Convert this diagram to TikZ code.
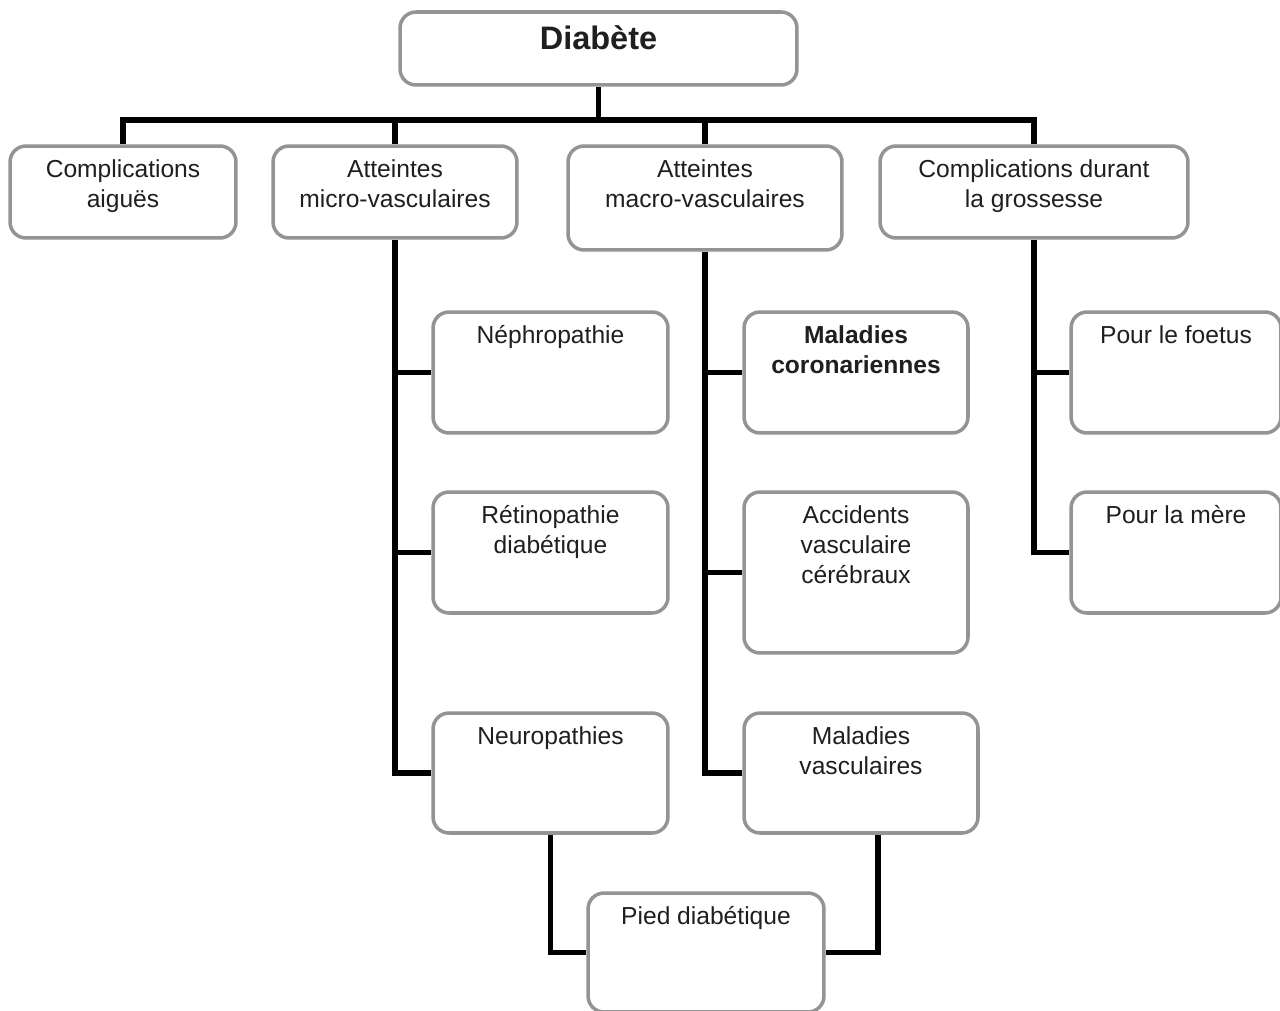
\documentclass[tikz,border=0pt]{standalone}
\usepackage{fontspec}
\setmainfont{Liberation Sans}
\usepackage{tikz}
\usetikzlibrary{shapes}

\newcommand{\boxtxt}[3]{\parbox[c][\dimexpr #2-12pt\relax][t]{#1}{\centering\strut #3}}

\begin{document}
\begin{tikzpicture}[x=0.02cm, y=-0.02cm,
        box/.style={draw=black!42, line width=2pt, rounded corners=0.32cm, fill=white,
            inner xsep=0pt, inner ysep=6pt, text=black!88, font=\fontsize{14}{17}\selectfont},
        link/.style={draw=black, line width=3.4pt}]
        \useasboundingbox (0, 0) rectangle (1280, 1010);

        \node[box, font=\fontsize{18.5}{22}\selectfont\bfseries] (diab) at (598.5, 48.5)
            {\boxtxt{7.94cm}{1.46cm}{Diabète}};

        \node[box] (aigu) at (123, 192) {\boxtxt{4.52cm}{1.84cm}{Complications\\aiguës}};
        \node[box] (micro) at (395, 192) {\boxtxt{4.88cm}{1.84cm}{Atteintes\\micro-vasculaires}};
        \node[box] (macro) at (705, 198) {\boxtxt{5.48cm}{2.08cm}{Atteintes\\macro-vasculaires}};
        \node[box] (gross) at (1034, 192) {\boxtxt{6.16cm}{1.84cm}{Complications durant\\la grossesse}};

        \node[box] (nephro) at (550.5, 372.5) {\boxtxt{4.70cm}{2.42cm}{Néphropathie}};
        \node[box] (retino) at (550.5, 552.5) {\boxtxt{4.70cm}{2.42cm}{Rétinopathie\\diabétique}};
        \node[box] (neuro) at (550.5, 773) {\boxtxt{4.70cm}{2.40cm}{Neuropathies}};

        \node[box] (coro) at (856, 372.5) {\boxtxt{4.48cm}{2.42cm}{\bfseries Maladies\\coronariennes}};
        \node[box] (avc) at (856, 572.5) {\boxtxt{4.48cm}{3.22cm}{Accidents\\vasculaire\\cérébraux}};
        \node[box] (mvasc) at (861, 773) {\boxtxt{4.68cm}{2.40cm}{Maladies\\vasculaires}};

        \node[box] (foetus) at (1176, 372.5) {\boxtxt{4.20cm}{2.42cm}{Pour le foetus}};
        \node[box] (mere) at (1176, 552.5) {\boxtxt{4.20cm}{2.42cm}{Pour la mère}};

        \node[box] (pied) at (706, 952.5) {\boxtxt{4.72cm}{2.38cm}{Pied diabétique}};

        \coordinate (bus) at (598.5, 120);
        \draw[link] (diab.south) -- (bus);
        \draw[link] (aigu.north) |- (bus) -| (gross.north);
        \draw[link] (micro.north) -- (micro.north |- bus);
        \draw[link] (macro.north) -- (macro.north |- bus);

        \draw[link] (micro.south) |- (neuro.west);
        \draw[link] (micro.south |- nephro.west) -- (nephro.west);
        \draw[link] (micro.south |- retino.west) -- (retino.west);

        \draw[link] (macro.south) |- (mvasc.west);
        \draw[link] (macro.south |- coro.west) -- (coro.west);
        \draw[link] (macro.south |- avc.west) -- (avc.west);

        \draw[link] (gross.south) |- (mere.west);
        \draw[link] (gross.south |- foetus.west) -- (foetus.west);

        \draw[link] (neuro.south) |- (pied.west);
        \draw[link] ([xshift=0.34cm]mvasc.south) |- (pied.east);
    \end{tikzpicture}
\end{document}
